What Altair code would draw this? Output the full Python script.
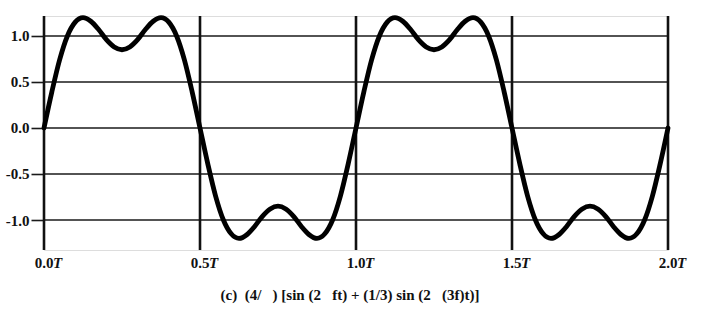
import altair as alt
import pandas as pd

# Curve samples (time in units of T, amplitude)
t_values = [i * 0.025 for i in range(81)]
y_values = [
    0.00, 0.39, 0.74, 1.00, 1.15, 1.20, 1.16, 1.07, 0.96, 0.88,
    0.85, 0.88, 0.96, 1.07, 1.16, 1.20, 1.15, 1.00, 0.74, 0.39,
    0.00, -0.39, -0.74, -1.00, -1.15, -1.20, -1.16, -1.07, -0.96, -0.88,
    -0.85, -0.88, -0.96, -1.07, -1.16, -1.20, -1.15, -1.00, -0.74, -0.39,
    0.00, 0.39, 0.74, 1.00, 1.15, 1.20, 1.16, 1.07, 0.96, 0.88,
    0.85, 0.88, 0.96, 1.07, 1.16, 1.20, 1.15, 1.00, 0.74, 0.39,
    0.00, -0.39, -0.74, -1.00, -1.15, -1.20, -1.16, -1.07, -0.96, -0.88,
    -0.85, -0.88, -0.96, -1.07, -1.16, -1.20, -1.15, -1.00, -0.74, -0.39,
    0.00,
]

x_ticks = [0.0, 0.5, 1.0, 1.5, 2.0]
x_tick_numbers = ["0.0", "0.5", "1.0", "1.5", "2.0"]
x_tick_unit = "T"
y_ticks = [-1.0, -0.5, 0.0, 0.5, 1.0]
NB = "\u00a0"
caption = ("(c)" + NB * 2 + "(4/" + NB * 3 + ")" + NB + "[sin" + NB + "(2" + NB * 3 + "ft)"
           + NB + "+" + NB + "(1/3)" + NB + "sin" + NB + "(2" + NB * 3 + "(3f)t)]")

FONT = "Liberation Serif"

curve_df = pd.DataFrame({"t": t_values, "y": y_values})
xt_df = pd.DataFrame({"t": x_ticks, "num": x_tick_numbers, "unit": [x_tick_unit] * len(x_ticks)})
yt_df = pd.DataFrame({"y": y_ticks})

xscale = alt.Scale(domain=[0, 2], nice=False, zero=False)
yscale = alt.Scale(domain=[-1.326, 1.217], nice=False, zero=False)

hgrid = alt.Chart(yt_df).mark_rule(color="#1a1a1a", strokeWidth=1.6).encode(
    y=alt.Y("y:Q", scale=yscale,
            axis=alt.Axis(values=y_ticks, format=".1f",
                          labelExpr="replace(datum.label, '\u2212', '-')",
                          labelFont=FONT, labelFontWeight="bold", labelFontSize=15,
                          labelColor="#111", labelPadding=2,
                          tickSize=13, tickWidth=1.6, tickColor="#1a1a1a",
                          domain=False, grid=False, title=None))
)

vgrid = alt.Chart(xt_df).mark_rule(color="#111", strokeWidth=2.6).encode(
    x=alt.X("t:Q", scale=xscale, axis=None)
)

curve = alt.Chart(curve_df).mark_line(
    color="black", strokeWidth=4.8, interpolate="monotone", strokeCap="round", strokeJoin="round"
).encode(
    x=alt.X("t:Q", scale=xscale, axis=None),
    y=alt.Y("y:Q", scale=yscale),
)

xnum = alt.Chart(xt_df).mark_text(
    font=FONT, fontWeight="bold", fontSize=15, align="center", baseline="middle", color="#111"
).encode(
    x=alt.X("t:Q", scale=xscale, axis=None),
    y=alt.value(247),
    text="num:N",
)

xunit = alt.Chart(xt_df).mark_text(
    font=FONT, fontWeight="bold", fontStyle="italic", fontSize=15, align="left",
    baseline="middle", color="#111", dx=9
).encode(
    x=alt.X("t:Q", scale=xscale, axis=None),
    y=alt.value(247),
    text="unit:N",
)

cap = alt.Chart(pd.DataFrame({"c": [caption]})).mark_text(
    font=FONT, fontWeight="bold", fontSize=15, align="center", baseline="middle", color="#111"
).encode(
    x=alt.value(306),
    y=alt.value(279),
    text="c:N",
)

chart = alt.layer(hgrid, vgrid, curve, xnum, xunit, cap).properties(
    width=624, height=234,
    autosize=alt.AutoSizeParams(type="none"),
    padding={"left": 44, "top": 16, "right": 39, "bottom": 61},
).configure_view(stroke=None).configure(background="white")

chart.save("out.html", embed_options={"renderer": "svg", "actions": False})
